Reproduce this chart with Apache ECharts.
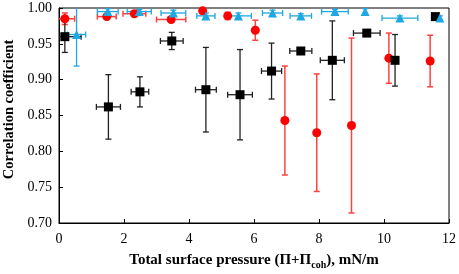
<!DOCTYPE html>
<html>
<head>
<meta charset="utf-8">
<script src="https://cdn.jsdelivr.net/npm/echarts@6/dist/echarts.min.js"></script>
<style>
  html, body { margin: 0; padding: 0; background: #fff; }
  #chart { width: 459px; height: 274px; }
</style>
</head>
<body>
<div id="chart"></div>
<script>
// black squares
const blackX = [0.18, 1.52, 2.49, 3.47, 4.52, 5.57, 6.54, 7.44, 8.41, 9.47, 10.34, 11.58];
const blackY = [0.960, 0.862, 0.883, 0.954, 0.886, 0.879, 0.912, 0.940, 0.927, 0.965, 0.927, 0.988];
const blackXErr = [0.5, 0.37, 0.27, 0.35, 0.32, 0.38, 0.31, 0.34, 0.37, 0.41, 0, 0];
const blackYErr = [0.022, 0.045, 0.021, 0.012, 0.059, 0.063, 0.039, 0.003, 0.055, 0.002, 0.036, 0.004];

// red circles
const redX = [0.18, 1.47, 2.32, 3.45, 4.42, 5.19, 6.04, 6.95, 7.93, 9.0, 10.15, 11.42];
const redY = [0.985, 0.988, 0.992, 0.984, 0.996, 0.989, 0.969, 0.843, 0.826, 0.836, 0.930, 0.926];
const redXErr = [0.3, 0.29, 0.35, 0.45, 0, 0, 0, 0, 0, 0, 0, 0];
const redYErr = [0.008, 0.003, 0.003, 0.003, 0.004, 0.005, 0.014, 0.076, 0.082, 0.122, 0.035, 0.036];

// blue triangles
const blueX = [0.54, 1.50, 2.47, 3.52, 4.52, 5.52, 6.57, 7.44, 8.49, 9.42, 10.49, 11.72];
const blueY = [0.963, 0.995, 0.995, 0.993, 0.989, 0.989, 0.993, 0.989, 0.995, 0.995, 0.986, 0.986];
const blueXErr = [0.28, 0.32, 0.37, 0.38, 0.28, 0.4, 0.31, 0.33, 0.41, 0, 0.55, 0];
const blueYErr = [0.044, 0.004, 0.003, 0.004, 0.004, 0.004, 0.004, 0.003, 0.003, 0.004, 0.003, 0.003];

const X_MIN = 0, X_MAX = 12, Y_MIN = 0.7, Y_MAX = 1.0;

function rows(xs, ys, xe, ye) {
  return xs.map((x, i) => [x, ys[i], xe[i], ye[i]]);
}

function errorBars(name, data, color, width) {
  return {
    name: name + ' err',
    type: 'custom',
    data: data,
    z: 2,
    renderItem: function (params, api) {
      const x = api.value(0), y = api.value(1);
      const dx = api.value(2), dy = api.value(3);
      const cap = 3;
      const style = { stroke: color, lineWidth: width };
      const kids = [];
      const line = (a, b) => kids.push({ type: 'line', shape: { x1: a[0], y1: a[1], x2: b[0], y2: b[1] }, style: style });
      if (dy > 0) {
        const top = Math.min(y + dy, Y_MAX), bot = Math.max(y - dy, Y_MIN);
        const pt = api.coord([x, top]), pb = api.coord([x, bot]);
        line(pt, pb);
        if (y + dy <= Y_MAX) line([pt[0] - cap, pt[1]], [pt[0] + cap, pt[1]]);
        if (y - dy >= Y_MIN) line([pb[0] - cap, pb[1]], [pb[0] + cap, pb[1]]);
      }
      if (dx > 0) {
        const lo = Math.max(x - dx, X_MIN), hi = Math.min(x + dx, X_MAX);
        const pl = api.coord([lo, y]), pr = api.coord([hi, y]);
        line(pl, pr);
        if (x - dx >= X_MIN) line([pl[0], pl[1] - cap], [pl[0], pl[1] + cap]);
        if (x + dx <= X_MAX) line([pr[0], pr[1] - cap], [pr[0], pr[1] + cap]);
      }
      return { type: 'group', children: kids };
    }
  };
}

function points(name, xs, ys, symbol, size, color, z) {
  return {
    name: name,
    type: 'scatter',
    data: xs.map((x, i) => [x, ys[i]]),
    symbol: symbol,
    symbolSize: size,
    itemStyle: { color: color, opacity: 1 },
    z: z
  };
}

const serif = 'Liberation Serif';
const chart = echarts.init(document.getElementById('chart'));

chart.setOption({
  animation: false,
  grid: {
    left: 59, right: 10, top: 8, bottom: 51,
    outerBoundsMode: 'none',
    show: true, borderColor: '#000', borderWidth: 1
  },
  xAxis: {
    type: 'value',
    min: X_MIN, max: X_MAX, interval: 2,
    name: '{a|Total surface pressure (Π+Π}{s|coh}{a|), mN/m}',
    nameLocation: 'middle',
    nameGap: 28,
    nameTextStyle: {
      rich: {
        a: { fontFamily: serif, fontWeight: 'bold', fontSize: 15, color: '#000' },
        s: { fontFamily: serif, fontWeight: 'bold', fontSize: 10, color: '#000', padding: [9, 0, 0, 0] }
      }
    },
    axisLine: { lineStyle: { color: '#000', width: 1 } },
    axisTick: { inside: true, length: 4, lineStyle: { color: '#000' } },
    axisLabel: { fontFamily: serif, fontSize: 14, color: '#000', margin: 9 },
    splitLine: { show: false }
  },
  yAxis: {
    type: 'value',
    min: Y_MIN, max: Y_MAX, interval: 0.05,
    name: 'Correlation coefficient',
    nameLocation: 'middle',
    nameGap: 38,
    nameTextStyle: { fontFamily: serif, fontWeight: 'bold', fontSize: 14.5, color: '#000', padding: [0, 0, 0, 12] },
    axisLine: { show: true, lineStyle: { color: '#000', width: 1 } },
    axisTick: { show: true, inside: true, length: 4, lineStyle: { color: '#000' } },
    axisLabel: { fontFamily: serif, fontSize: 14, color: '#000', margin: 7, formatter: v => v.toFixed(2) },
    splitLine: { show: false }
  },
  series: [
    errorBars('red', rows(redX, redY, redXErr, redYErr), '#ff4040', 1.5),
    points('red', redX, redY, 'circle', 9, '#ff0000', 3),
    errorBars('black', rows(blackX, blackY, blackXErr, blackYErr), '#222', 1.3),
    points('black', blackX, blackY, 'rect', 9, '#000', 4),
    errorBars('blue', rows(blueX, blueY, blueXErr, blueYErr), '#1ea7e1', 1.3),
    points('blue', blueX, blueY, 'triangle', 9, '#1ea7e1', 5)
  ]
});
</script>
</body>
</html>
